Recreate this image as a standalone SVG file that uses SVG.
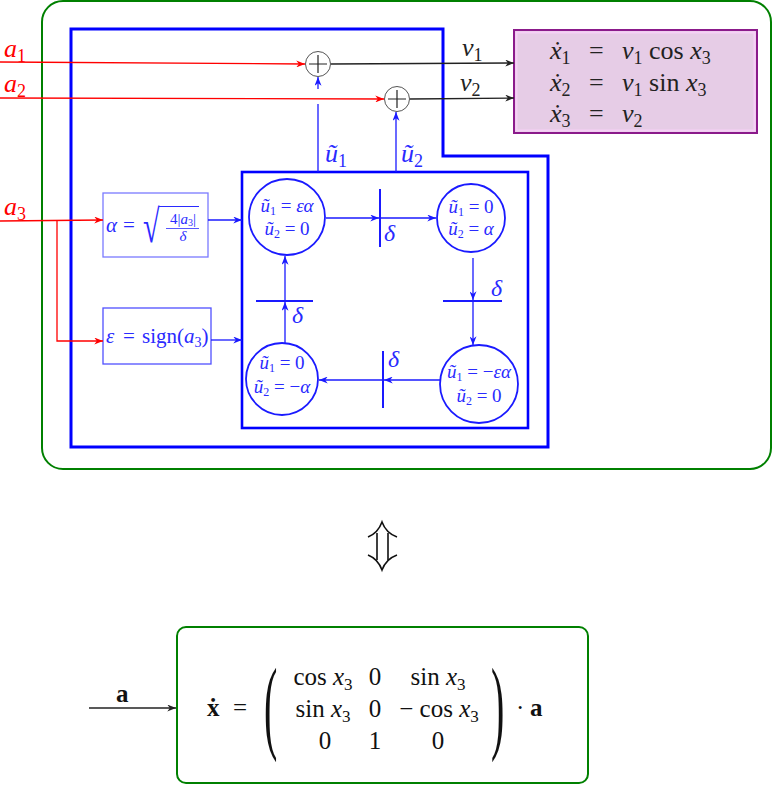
<svg xmlns="http://www.w3.org/2000/svg" width="773" height="785" viewBox="0 0 773 785">
<style>
.m{font-family:"Liberation Serif","DejaVu Serif",serif;}
.i{font-style:italic}
.b{font-weight:bold}
.red{fill:#ff0000}
.blu{fill:#2a2aff}
.rl{stroke:#ff0000;stroke-width:1.3;fill:none}
.bl{stroke:#1a1aff;stroke-width:1.3;fill:none}
.kl{stroke:#222;stroke-width:1.3;fill:none}
.st{fill:#fff;stroke:#1a1aff;stroke-width:1.8}
.bar{stroke:#1a1aff;stroke-width:2;fill:none}
.ct{font-size:19px}
</style>
<defs>
<marker id="ar" viewBox="0 0 10 8" refX="10" refY="4" markerWidth="10" markerHeight="7" orient="auto" markerUnits="userSpaceOnUse"><path d="M0,0 L10,4 L0,8 L3,4 z" fill="#ff0000"/></marker>
<marker id="ab" viewBox="0 0 10 8" refX="10" refY="4" markerWidth="10" markerHeight="7" orient="auto" markerUnits="userSpaceOnUse"><path d="M0,0 L10,4 L0,8 L3,4 z" fill="#1a1aff"/></marker>
<marker id="ak" viewBox="0 0 10 8" refX="10" refY="4" markerWidth="10" markerHeight="7" orient="auto" markerUnits="userSpaceOnUse"><path d="M0,0 L10,4 L0,8 L3,4 z" fill="#222"/></marker>
</defs>
<rect width="773" height="785" fill="#fff"/>

<g id="outer-frame"><rect x="42" y="1" width="729" height="468" rx="21" fill="none" stroke="#008000" stroke-width="2"/></g>
<g id="controller-frame"><polygon points="71,29 443,29 443,156 548,156 548,447 71,447" fill="none" stroke="#0000ff" stroke-width="3"/></g>
<g id="automaton-frame"><rect x="242" y="172" width="286" height="256" fill="none" stroke="#0000ff" stroke-width="2.6"/></g>

<g id="system">
<rect x="514" y="30" width="243" height="103" fill="#e6cce6" stroke="#8b1a8b" stroke-width="2"/>
<rect x="516.5" y="32.5" width="238" height="98" fill="none" stroke="#f6d0f6" stroke-width="2"/>
<g class="m" font-size="26" fill="#222">
<text x="550" y="59"><tspan class="i">ẋ</tspan><tspan font-size="18" dy="5">1</tspan></text>
<text x="589" y="59">=</text>
<text x="622" y="59"><tspan class="i">v</tspan><tspan font-size="18" dy="5">1</tspan><tspan dy="-5"> cos </tspan><tspan class="i">x</tspan><tspan font-size="18" dy="5">3</tspan></text>
<text x="550" y="91"><tspan class="i">ẋ</tspan><tspan font-size="18" dy="5">2</tspan></text>
<text x="589" y="91">=</text>
<text x="622" y="91"><tspan class="i">v</tspan><tspan font-size="18" dy="5">1</tspan><tspan dy="-5"> sin </tspan><tspan class="i">x</tspan><tspan font-size="18" dy="5">3</tspan></text>
<text x="550" y="122"><tspan class="i">ẋ</tspan><tspan font-size="18" dy="5">3</tspan></text>
<text x="589" y="122">=</text>
<text x="622" y="122"><tspan class="i">v</tspan><tspan font-size="18" dy="5">2</tspan></text>
</g>
</g>

<g id="sum1"><circle cx="318" cy="64" r="12.5" fill="#fff" stroke="#555" stroke-width="1"/><path d="M318,55 V73 M309,64 H327" stroke="#222" stroke-width="1.2"/></g>
<g id="sum2"><circle cx="397" cy="99" r="12.5" fill="#fff" stroke="#555" stroke-width="1"/><path d="M397,90 V108 M388,99 H406" stroke="#222" stroke-width="1.2"/></g>

<g id="alpha-box">
<rect x="103" y="193" width="105" height="64" fill="none" stroke="#7a7aff" stroke-width="1.3"/>
<g class="m blu" font-size="21">
<text x="106" y="232" class="i">α</text>
<text x="123" y="232">=</text>
<text transform="translate(143,242) scale(1,1.54)" font-size="30">√</text>
<line x1="159" y1="206.5" x2="199" y2="206.5" stroke="#2a2aff" stroke-width="1"/>
<text x="183" y="224" font-size="15" text-anchor="middle">4|<tspan class="i">a</tspan><tspan font-size="10" dy="2">3</tspan><tspan dy="-2">|</tspan></text>
<line x1="166" y1="228.5" x2="199" y2="228.5" stroke="#2a2aff" stroke-width="0.8"/>
<text x="183" y="241" font-size="15" text-anchor="middle" class="i">δ</text>
</g>
</g>

<g id="eps-box">
<rect x="103" y="308" width="108" height="56" fill="none" stroke="#5050ff" stroke-width="1.3"/>
<text x="106" y="343" class="m blu" font-size="21"><tspan class="i">ε</tspan><tspan x="123">=</tspan><tspan x="142">sign(</tspan><tspan class="i">a</tspan><tspan font-size="14" dy="4">3</tspan><tspan dy="-4">)</tspan></text>
</g>

<g id="q1"><circle cx="287" cy="217" r="38" class="st"/>
<text class="m blu ct" x="287" y="212" text-anchor="middle"><tspan class="i">ũ</tspan><tspan font-size="12" dy="3">1</tspan><tspan dy="-3"> = </tspan><tspan class="i">εα</tspan></text>
<text class="m blu ct" x="287" y="235" text-anchor="middle"><tspan class="i">ũ</tspan><tspan font-size="12" dy="3">2</tspan><tspan dy="-3"> = 0</tspan></text>
</g>
<g id="q2"><circle cx="471" cy="218" r="34" class="st"/>
<text class="m blu ct" x="471" y="213" text-anchor="middle"><tspan class="i">ũ</tspan><tspan font-size="12" dy="3">1</tspan><tspan dy="-3"> = 0</tspan></text>
<text class="m blu ct" x="471" y="235" text-anchor="middle"><tspan class="i">ũ</tspan><tspan font-size="12" dy="3">2</tspan><tspan dy="-3"> = </tspan><tspan class="i">α</tspan></text>
</g>
<g id="q3"><circle cx="479" cy="384" r="39" class="st"/>
<text class="m blu ct" x="479" y="378" text-anchor="middle"><tspan class="i">ũ</tspan><tspan font-size="12" dy="3">1</tspan><tspan dy="-3"> = −</tspan><tspan class="i">εα</tspan></text>
<text class="m blu ct" x="479" y="402" text-anchor="middle"><tspan class="i">ũ</tspan><tspan font-size="12" dy="3">2</tspan><tspan dy="-3"> = 0</tspan></text>
</g>
<g id="q4"><circle cx="282" cy="379" r="36" class="st"/>
<text class="m blu ct" x="282" y="369" text-anchor="middle"><tspan class="i">ũ</tspan><tspan font-size="12" dy="3">1</tspan><tspan dy="-3"> = 0</tspan></text>
<text class="m blu ct" x="282" y="393" text-anchor="middle"><tspan class="i">ũ</tspan><tspan font-size="12" dy="3">2</tspan><tspan dy="-3"> = −</tspan><tspan class="i">α</tspan></text>
</g>

<g id="connectors">
<line x1="0" y1="62" x2="305" y2="64" class="rl" marker-end="url(#ar)"/>
<line x1="0" y1="98" x2="384" y2="99" class="rl" marker-end="url(#ar)"/>
<polyline points="0,221 103,220" class="rl" marker-end="url(#ar)"/>
<polyline points="57,221 57,341 103,341" class="rl" marker-end="url(#ar)"/>
<line x1="331" y1="64" x2="514" y2="63" class="kl" marker-end="url(#ak)"/>
<line x1="410" y1="99" x2="514" y2="98" class="kl" marker-end="url(#ak)"/>
<line x1="318" y1="172" x2="318" y2="104" class="bl"/>
<line x1="318" y1="89" x2="318" y2="77" class="bl" marker-end="url(#ab)"/>
<line x1="396" y1="172" x2="396" y2="112" class="bl" marker-end="url(#ab)"/>
<line x1="208" y1="220" x2="242" y2="220" class="bl" marker-end="url(#ab)"/>
<line x1="211" y1="340" x2="242" y2="340" class="bl" marker-end="url(#ab)"/>
<line x1="326" y1="218" x2="379" y2="218" class="bl" marker-end="url(#ab)"/>
<line x1="381" y1="218" x2="436" y2="218" class="bl" marker-end="url(#ab)"/>
<line x1="380" y1="189" x2="380" y2="247" class="bar"/>
<line x1="473" y1="258" x2="473" y2="300" class="bl" marker-end="url(#ab)"/>
<line x1="473" y1="302" x2="473" y2="345" class="bl" marker-end="url(#ab)"/>
<line x1="443" y1="301" x2="502" y2="301" class="bar"/>
<line x1="440" y1="380" x2="384" y2="380" class="bl" marker-end="url(#ab)"/>
<line x1="382" y1="380" x2="319" y2="380" class="bl" marker-end="url(#ab)"/>
<line x1="383" y1="351" x2="383" y2="408" class="bar"/>
<line x1="285" y1="343" x2="285" y2="302" class="bl" marker-end="url(#ab)"/>
<line x1="285" y1="300" x2="285" y2="256" class="bl" marker-end="url(#ab)"/>
<line x1="256" y1="301" x2="313" y2="301" class="bar"/>
<line x1="89" y1="708" x2="176" y2="708" class="kl" marker-end="url(#ak)"/>
</g>

<g id="labels" class="m i" font-size="26">
<text x="4" y="57" class="red">a<tspan font-size="18" dy="5" font-style="normal">1</tspan></text>
<text x="4" y="92" class="red">a<tspan font-size="18" dy="5" font-style="normal">2</tspan></text>
<text x="4" y="215" class="red">a<tspan font-size="18" dy="5" font-style="normal">3</tspan></text>
<text x="462" y="56" fill="#222">v<tspan font-size="18" dy="5" font-style="normal">1</tspan></text>
<text x="460" y="91" fill="#222">v<tspan font-size="18" dy="5" font-style="normal">2</tspan></text>
<text x="325" y="162" class="blu">ũ<tspan font-size="18" dy="5" font-style="normal">1</tspan></text>
<text x="401" y="162" class="blu">ũ<tspan font-size="18" dy="5" font-style="normal">2</tspan></text>
<text x="384" y="241" class="blu" font-size="24">δ</text>
<text x="491" y="296" class="blu" font-size="24">δ</text>
<text x="388" y="367" class="blu" font-size="24">δ</text>
<text x="292" y="323" class="blu" font-size="24">δ</text>
</g>

<g id="equivalence" fill="none" stroke="#111" stroke-width="1.6">
<path d="M368,537 Q378,533 382,522 Q386,533 397,537"/>
<path d="M377,533 V560 M388,533 V560"/>
<path d="M368,555 Q378,559 382,570 Q386,559 397,555"/>
</g>

<g id="compact-model">
<rect x="177" y="627" width="411" height="156" rx="9" fill="none" stroke="#008000" stroke-width="2"/>
<g class="m" font-size="25" fill="#111">
<text x="207" y="716" class="b">ẋ</text>
<text x="233" y="716">=</text>
<text transform="translate(264,740) scale(1,2.6)" font-size="40">(</text>
<text transform="translate(491,740) scale(1,2.6)" font-size="40">)</text>
<text x="323" y="685" text-anchor="middle">cos <tspan class="i">x</tspan><tspan font-size="17" dy="5">3</tspan></text>
<text x="375" y="685" text-anchor="middle">0</text>
<text x="438" y="685" text-anchor="middle">sin <tspan class="i">x</tspan><tspan font-size="17" dy="5">3</tspan></text>
<text x="323" y="717" text-anchor="middle">sin <tspan class="i">x</tspan><tspan font-size="17" dy="5">3</tspan></text>
<text x="375" y="717" text-anchor="middle">0</text>
<text x="439" y="717" text-anchor="middle">− cos <tspan class="i">x</tspan><tspan font-size="17" dy="5">3</tspan></text>
<text x="325" y="749" text-anchor="middle">0</text>
<text x="375" y="749" text-anchor="middle">1</text>
<text x="438" y="749" text-anchor="middle">0</text>
<text x="516" y="716">·</text>
<text x="530" y="716" class="b">a</text>
</g>
<text x="116" y="702" class="m b" font-size="25" fill="#111">a</text>
</g>
</svg>
